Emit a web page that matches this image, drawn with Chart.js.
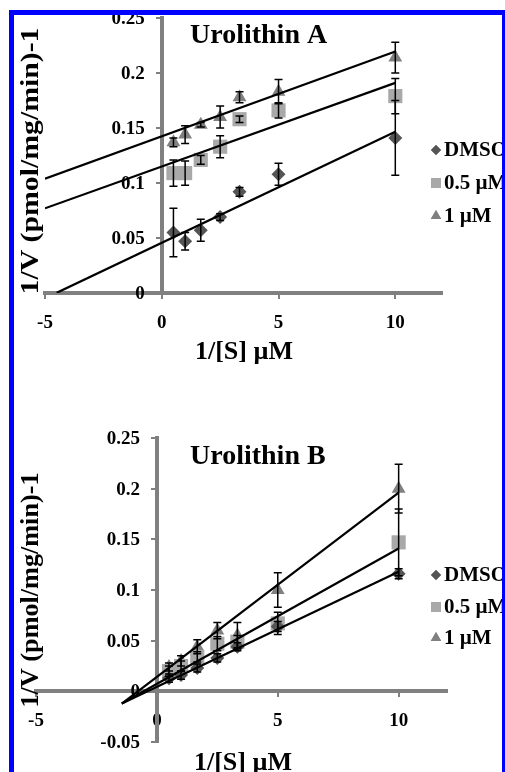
<!DOCTYPE html>
<html>
<head>
<meta charset="utf-8">
<script src="https://cdn.jsdelivr.net/npm/chart.js@4.4.1/dist/chart.umd.min.js"></script>
<style>
  html, body { margin: 0; padding: 0; background: #fff; }
  body { width: 505px; height: 772px; position: relative; overflow: hidden; }
  canvas { position: absolute; left: 0; top: 0; }
  #frame { position: absolute; left: 9px; top: 10px; width: 488px; height: 800px;
           border: 5px solid #0000ff; border-bottom: none; z-index: 2; pointer-events: none; }
</style>
</head>
<body>
<canvas id="chartA" width="505" height="772"></canvas>
<canvas id="chartB" width="505" height="772"></canvas>
<div id="frame"></div>
<script>
// Shared categories and labels
const xValues = [0.5, 1, 1.67, 2.5, 3.33, 5, 10];
const seriesLabels = ['DMSO', '0.5 µM', '1 µM'];
const xTicks = [-5, 0, 5, 10];
const xTickLabels = ['-5', '0', '5', '10'];
const yTicksA = [0, 0.05, 0.1, 0.15, 0.2, 0.25];
const yTickLabelsA = ['0', '0.05', '0.1', '0.15', '0.2', '0.25'];
const yTicksB = [-0.05, 0, 0.05, 0.1, 0.15, 0.2, 0.25];
const yTickLabelsB = ['-0.05', '0', '0.05', '0.1', '0.15', '0.2', '0.25'];
const lineEnd = 10;

// Urolithin A
const aDmso = [0.055, 0.047, 0.057, 0.069, 0.092, 0.108, 0.141];
const aDmsoErr = [0.022, 0.008, 0.010, 0.003, 0.004, 0.010, 0.034];
const aHalf = [0.109, 0.109, 0.121, 0.133, 0.158, 0.166, 0.179];
const aHalfErr = [0.012, 0.011, 0.004, 0.010, 0.003, 0.007, 0.016];
const aOne = [0.137, 0.144, 0.153, 0.160, 0.178, 0.183, 0.214];
const aOneErr = [0.004, 0.008, 0.002, 0.010, 0.005, 0.011, 0.014];
const aSlope = [0.0101, 0.0076, 0.0077];
const aIntercept = [0.0456, 0.115, 0.1425];
const aLineStart = [-4.5, -5, -5];

// Urolithin B
const bDmso = [0.013, 0.016, 0.023, 0.033, 0.044, 0.064, 0.116];
const bDmsoErr = [0.004, 0.004, 0.004, 0.004, 0.004, 0.005, 0.005];
const bHalf = [0.020, 0.025, 0.034, 0.047, 0.049, 0.067, 0.147];
const bHalfErr = [0.005, 0.005, 0.005, 0.007, 0.006, 0.011, 0.033];
const bOne = [0.024, 0.030, 0.044, 0.060, 0.055, 0.100, 0.200];
const bOneErr = [0.004, 0.005, 0.007, 0.008, 0.013, 0.017, 0.024];
const bSlope = [0.01135, 0.01336, 0.01817];
const bIntercept = [0.0045, 0.0074, 0.0143];
const bLineStart = [-1.45, -1.45, -1.45];

const markerColors = ['#555555', '#a9a9a9', '#808080'];
const markerStyles = ['rectRot', 'rect', 'triangle'];
const markerRadius = [7, 10, 8];
const legendRadius = [5, 7, 6];
const serif = '"Liberation Serif", "Times New Roman", serif';
const axisGray = '#808080';

// Draws vertical error bars for every dataset that carries an errors array
const errorBars = {
  id: 'errorBars',
  afterDatasetsDraw(chart) {
    const ctx = chart.ctx;
    const yScale = chart.scales.y;
    ctx.save();
    ctx.strokeStyle = '#000';
    ctx.lineWidth = 1.5;
    chart.data.datasets.forEach((ds, i) => {
      if (!ds.errors) return;
      chart.getDatasetMeta(i).data.forEach((pt, j) => {
        const v = ds.data[j].y, e = ds.errors[j];
        const top = yScale.getPixelForValue(v + e);
        const bot = yScale.getPixelForValue(v - e);
        ctx.beginPath();
        ctx.moveTo(pt.x, top); ctx.lineTo(pt.x, bot);
        ctx.moveTo(pt.x - 4, top); ctx.lineTo(pt.x + 4, top);
        ctx.moveTo(pt.x - 4, bot); ctx.lineTo(pt.x + 4, bot);
        ctx.stroke();
      });
    });
    ctx.restore();
  }
};

// Title, y tick labels, axis titles and legend
function decor(d) {
  return {
    id: 'decor',
    afterDraw(chart) {
      const ctx = chart.ctx;
      ctx.save();
      ctx.fillStyle = '#000';

      // y tick labels sit left of the y axis, which crosses at x = 0
      const yScale = chart.scales.y;
      const axisX = chart.scales.x.getPixelForValue(0);
      ctx.font = `bold 19px ${serif}`;
      ctx.textAlign = 'right';
      ctx.textBaseline = 'middle';
      d.yTicks.forEach((v, i) => {
        ctx.fillText(d.yLabels[i], axisX - 17, yScale.getPixelForValue(v) + 1);
      });

      ctx.textBaseline = 'alphabetic';
      ctx.textAlign = 'left';
      ctx.font = `bold 28px ${serif}`;
      ctx.fillText(d.title, d.titleX, d.titleY);

      ctx.font = `bold 26px ${serif}`;
      ctx.textAlign = 'center';
      ctx.fillText(d.xTitle, d.xTitleX, d.xTitleY);

      // y title, stretched to the length it has in the figure
      ctx.save();
      ctx.font = `bold 26px ${serif}`;
      const w = ctx.measureText(d.yTitle).width;
      ctx.translate(d.yTitleX, d.yTitleY);
      ctx.rotate(-Math.PI / 2);
      ctx.scale(d.yTitleLen / w, 1);
      ctx.textBaseline = 'middle';
      ctx.fillText(d.yTitle, 0, 0);
      ctx.restore();

      // legend
      ctx.font = `bold 21px ${serif}`;
      ctx.textAlign = 'left';
      ctx.textBaseline = 'middle';
      seriesLabels.forEach((lab, i) => {
        const y = d.legendY[i];
        ctx.fillStyle = markerColors[i];
        Chart.helpers.drawPoint(ctx, { pointStyle: markerStyles[i], radius: legendRadius[i], rotation: 0, borderWidth: 0 }, d.legendX, y);
        ctx.fill();
        ctx.fillStyle = '#000';
        ctx.fillText(lab, d.legendX + 8, y + 1);
      });
      ctx.restore();
    }
  };
}

function makeChart(id, cfg) {
  const datasets = [];
  cfg.series.forEach((s, i) => {
    datasets.push({
      label: seriesLabels[i],
      data: xValues.map((x, j) => ({ x: x, y: s.values[j] })),
      errors: s.errors,
      pointStyle: markerStyles[i],
      pointRadius: markerRadius[i],
      backgroundColor: markerColors[i],
      borderColor: markerColors[i],
      borderWidth: 0,
      order: 2
    });
  });
  cfg.series.forEach((s, i) => {
    datasets.push({
      label: '',
      data: [s.lineStart, lineEnd].map(x => ({ x: x, y: s.slope * x + s.intercept })),
      showLine: true,
      borderColor: '#000',
      borderWidth: 2.2,
      pointRadius: 0,
      order: 1
    });
  });

  const tickFont = { family: serif, size: 19, weight: 'bold' };
  return new Chart(document.getElementById(id), {
    type: 'scatter',
    data: { datasets },
    options: {
      responsive: false,
      animation: false,
      layout: { padding: cfg.padding },
      plugins: { legend: { display: false }, tooltip: { enabled: false } },
      scales: {
        x: {
          type: 'linear', min: -5, max: 12, position: { y: 0 },
          afterBuildTicks: s => { s.ticks = xTicks.map(v => ({ value: v })); },
          ticks: { callback: (v, i) => xTickLabels[i], font: tickFont, color: '#000', padding: cfg.xTickPad, maxRotation: 0 },
          grid: { drawOnChartArea: false, drawTicks: true, tickLength: 4, color: axisGray, lineWidth: 2 },
          border: { color: axisGray, width: 4 }
        },
        y: {
          type: 'linear', min: cfg.yTicks[0], max: cfg.yTicks[cfg.yTicks.length - 1], position: { x: 0 },
          afterBuildTicks: s => { s.ticks = cfg.yTicks.map(v => ({ value: v })); },
          ticks: { display: false },
          grid: { drawOnChartArea: false, drawTicks: true, tickLength: 4, color: axisGray, lineWidth: 2 },
          border: { color: axisGray, width: 4 }
        }
      }
    },
    plugins: [errorBars, decor(Object.assign({ yTicks: cfg.yTicks, yLabels: cfg.yLabels }, cfg.decor))]
  });
}

makeChart('chartA', {
  series: [
    { values: aDmso, errors: aDmsoErr, slope: aSlope[0], intercept: aIntercept[0], lineStart: aLineStart[0] },
    { values: aHalf, errors: aHalfErr, slope: aSlope[1], intercept: aIntercept[1], lineStart: aLineStart[1] },
    { values: aOne, errors: aOneErr, slope: aSlope[2], intercept: aIntercept[2], lineStart: aLineStart[2] }
  ],
  yTicks: yTicksA, yLabels: yTickLabelsA,
  padding: { left: 45, right: 63, top: 18, bottom: 479 },
  xTickPad: 15,
  decor: {
    title: 'Urolithin A', titleX: 190, titleY: 43,
    xTitle: '1/[S] µM', xTitleX: 244, xTitleY: 359,
    yTitle: '1/V (pmol/mg/min)-1', yTitleX: 31, yTitleY: 161, yTitleLen: 267,
    legendX: 436, legendY: [150, 183, 216]
  }
});

makeChart('chartB', {
  series: [
    { values: bDmso, errors: bDmsoErr, slope: bSlope[0], intercept: bIntercept[0], lineStart: bLineStart[0] },
    { values: bHalf, errors: bHalfErr, slope: bSlope[1], intercept: bIntercept[1], lineStart: bLineStart[1] },
    { values: bOne, errors: bOneErr, slope: bSlope[2], intercept: bIntercept[2], lineStart: bLineStart[2] }
  ],
  yTicks: yTicksB, yLabels: yTickLabelsB,
  padding: { left: 36, right: 58, top: 438, bottom: 30 },
  xTickPad: 14,
  decor: {
    title: 'Urolithin B', titleX: 190, titleY: 464,
    xTitle: '1/[S] µM', xTitleX: 243, xTitleY: 770,
    yTitle: '1/V (pmol/mg/min)-1', yTitleX: 31, yTitleY: 590, yTitleLen: 235,
    legendX: 436, legendY: [575, 607, 638]
  }
});
</script>
</body>
</html>
